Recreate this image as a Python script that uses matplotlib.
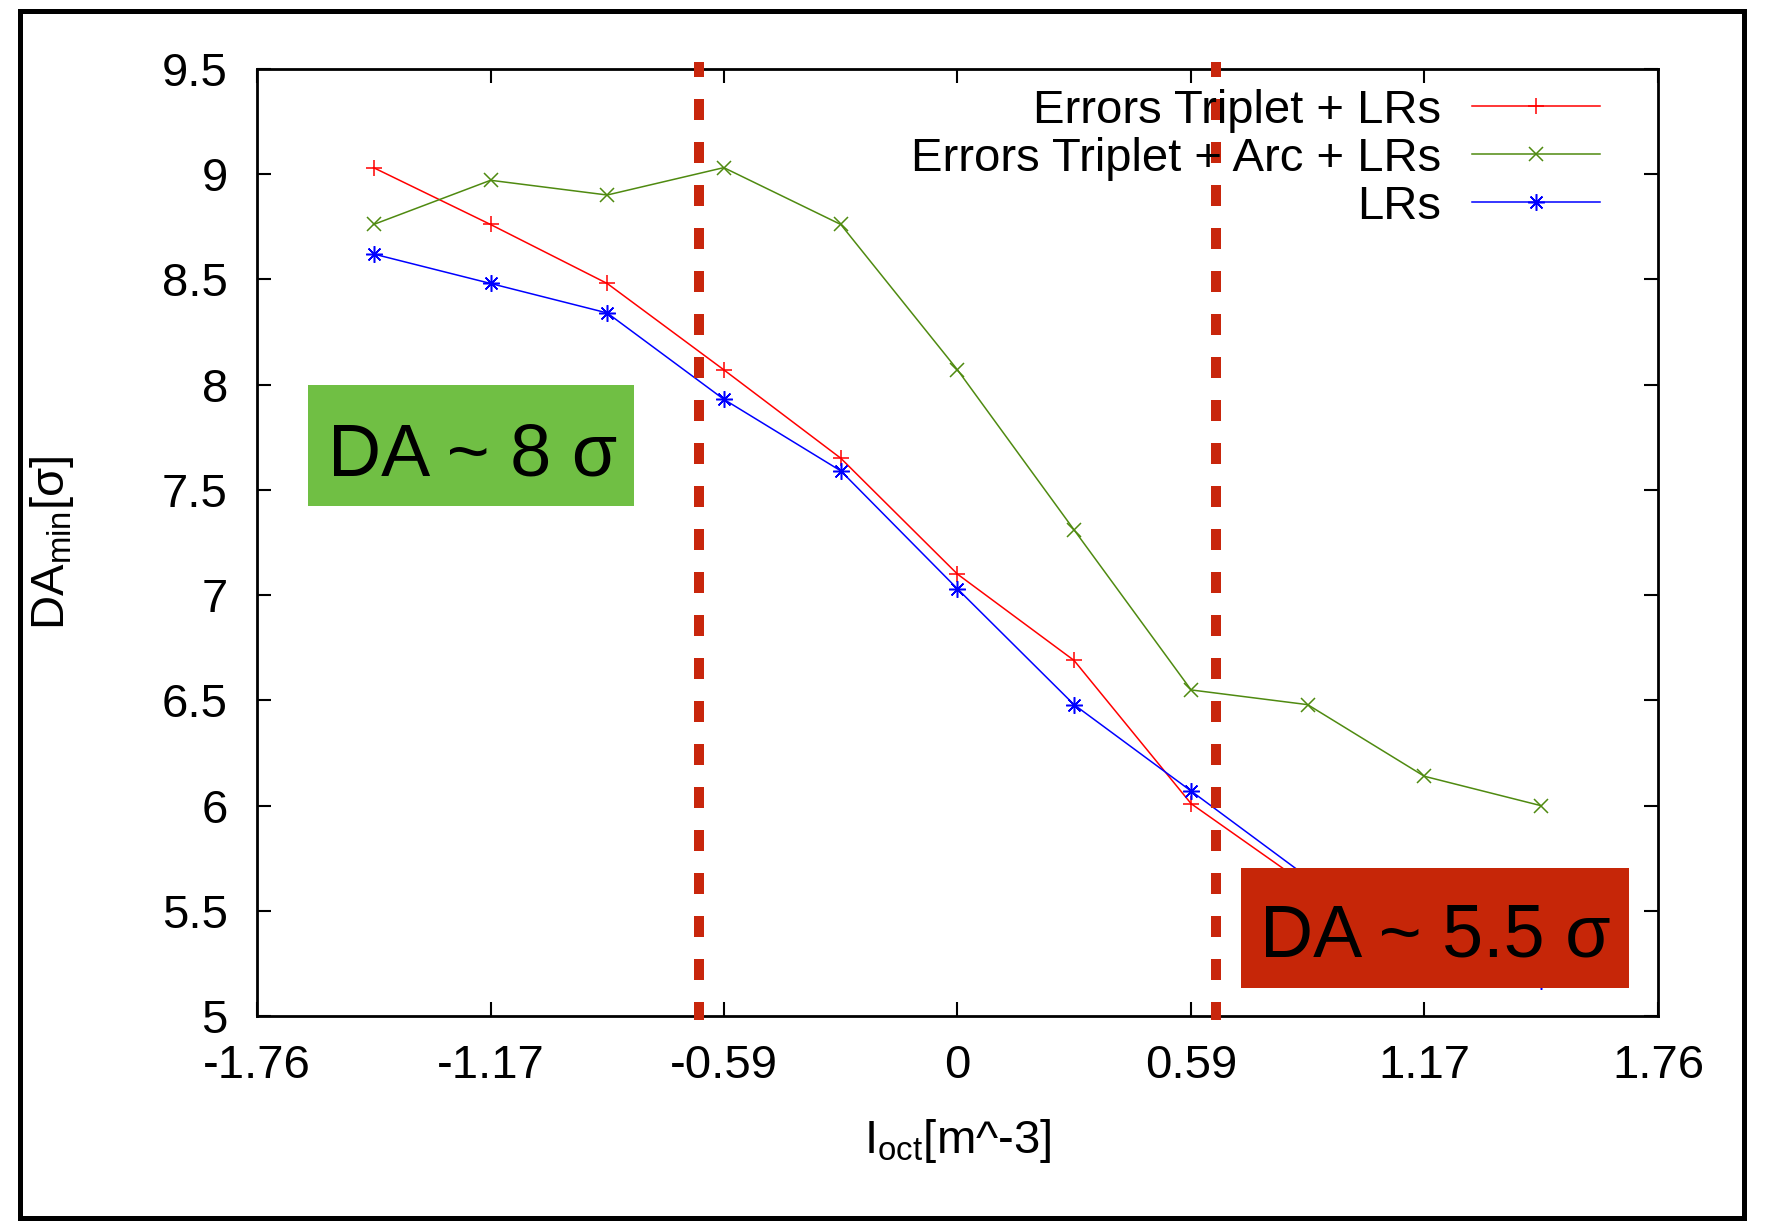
import matplotlib
matplotlib.use("Agg")
import matplotlib.pyplot as plt
from matplotlib.patches import Rectangle

plt.rcParams['font.family'] = ['Liberation Sans', 'DejaVu Sans']
plt.rcParams['mathtext.fontset'] = 'custom'
plt.rcParams['mathtext.rm'] = 'Liberation Sans'
plt.rcParams['mathtext.it'] = 'Liberation Sans:italic'

# data
i_oct = [-1.467, -1.173, -0.88, -0.587, -0.293, 0.0, 0.293, 0.587, 0.88, 1.173, 1.467]
da_triplet = [9.03, 8.76, 8.48, 8.07, 7.65, 7.10, 6.69, 6.01, 5.62, 5.38, 5.22]
da_triplet_arc = [8.76, 8.97, 8.90, 9.03, 8.76, 8.07, 7.31, 6.55, 6.48, 6.14, 6.00]
da_lrs = [8.62, 8.48, 8.34, 7.93, 7.59, 7.03, 6.48, 6.07, 5.66, 5.40, 5.17]

x_ticks = [-1.76, -1.173, -0.587, 0.0, 0.587, 1.173, 1.76]
x_ticklabels = ['-1.76', '-1.17', '-0.59', '0', '0.59', '1.17', '1.76']
y_ticks = [5, 5.5, 6, 6.5, 7, 7.5, 8, 8.5, 9, 9.5]
y_ticklabels = ['5', '5.5', '6', '6.5', '7', '7.5', '8', '8.5', '9', '9.5']

cut_lines = [-0.65, 0.65]

fig = plt.figure(figsize=(17.67, 12.26), dpi=100)
ax = fig.add_axes([0.1454, 0.1710, 0.7929, 0.7730])

ax.plot(i_oct, da_triplet, color='#ff0000', lw=1.1, marker='+', ms=12, mew=1.1,
        label='Errors Triplet + LRs')
ax.plot(i_oct, da_triplet_arc, color='#4f8a10', lw=1.1, marker='x', ms=10, mew=1.1,
        label='Errors Triplet + Arc + LRs')
ax.plot(i_oct, da_lrs, color='#0000ff', lw=1.1, marker=(8, 2, 0), ms=12, mew=1.1,
        label='LRs')

for xc in cut_lines:
    ax.plot([xc, xc], [1.0074, -0.004], transform=ax.get_xaxis_transform(),
            color='#c8260c', lw=7.2, linestyle=(0.6, (2.1, 2.2)),
            solid_capstyle='butt', dash_capstyle='butt', clip_on=False, zorder=4)

ax.set_xlim(-1.76, 1.76)
ax.set_ylim(5, 9.5)
ax.set_xticks(x_ticks)
ax.set_xticklabels(x_ticklabels)
ax.set_yticks(y_ticks)
ax.set_yticklabels(y_ticklabels)
ax.tick_params(direction='in', length=10, width=1.5, labelsize=34,
               top=True, right=True)
ax.tick_params(axis='x', pad=20)
ax.tick_params(axis='y', pad=21)
for s in ax.spines.values():
    s.set_linewidth(2)

ax.set_xlabel(r'I$_{\rm oct}$[m^-3]', fontsize=34)
ax.set_ylabel(r'DA$_{\rm min}$[σ]', fontsize=34)
ax.xaxis.set_label_coords(0.5, -0.106)
ax.yaxis.set_label_coords(-0.129, 0.5)

ax.legend(loc='upper right', bbox_to_anchor=(0.9586, 0.979), fontsize=34,
          frameon=False, markerfirst=False, numpoints=1, handlelength=2.71,
          handletextpad=0.65, labelspacing=0.085, borderpad=0, borderaxespad=0)

# coloured annotation boxes
ax.add_patch(Rectangle((0.1743, 0.5876), 0.1845, 0.0984, transform=fig.transFigure,
                       facecolor='#70bf44', edgecolor='none', clip_on=False, zorder=10))
ax.text(0.2672, 0.6122, 'DA ~ 8 σ', transform=fig.transFigure, fontsize=53,
        ha='center', va='baseline', zorder=11)
ax.add_patch(Rectangle((0.7023, 0.1944), 0.2196, 0.0979, transform=fig.transFigure,
                       facecolor='#c62608', edgecolor='none', clip_on=False, zorder=10))
ax.text(0.8121, 0.2197, 'DA ~ 5.5 σ', transform=fig.transFigure, fontsize=53,
        ha='center', va='baseline', zorder=11)

# slide frame
fig.patches.append(Rectangle((0.0116, 0.0065), 0.9754, 0.9845, transform=fig.transFigure,
                             fill=False, edgecolor='black', lw=3.6))

fig.savefig('out.png', dpi=100)
